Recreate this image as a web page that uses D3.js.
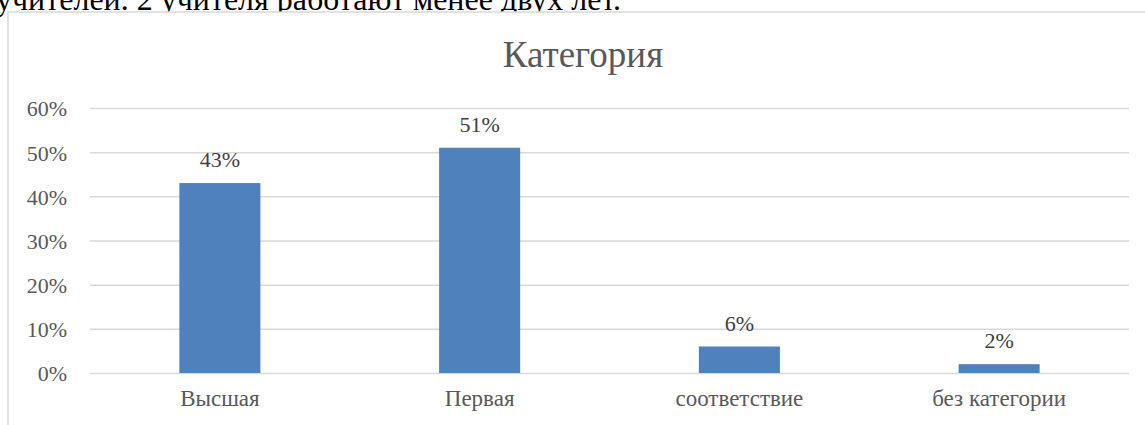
<!DOCTYPE html>
<html>
<head>
<meta charset="utf-8">
<script src="https://cdn.jsdelivr.net/npm/d3@7"></script>
<style>
  body { margin: 0; background: #fff; }
  svg { display: block; }
</style>
</head>
<body>
<svg></svg>
<script>
const categories = ['Высшая', 'Первая', 'соответствие', 'без категории'];
const values = [0.43, 0.51, 0.06, 0.02];
const tickValues = [0, 0.1, 0.2, 0.3, 0.4, 0.5, 0.6];

const data = categories.map((c, i) => ({ category: c, value: values[i] }));

const W = 1145;
const H = 425;
const plot = { left: 90, right: 1129, top: 108, bottom: 373 };
const serif = '"Liberation Serif", "Times New Roman", serif';

const svg = d3.select('svg')
    .attr('width', W)
    .attr('height', H);

// text of the document above the chart, cut by the page edge
svg.append('text')
    .attr('x', -4)
    .attr('y', 10)
    .attr('font-family', serif)
    .attr('font-size', 32)
    .attr('fill', '#000')
    .text('учителей. 2 учителя работают менее двух лет.');

// chart frame
svg.append('rect')
    .attr('x', 8)
    .attr('y', 12)
    .attr('width', W + 20)
    .attr('height', H + 20)
    .attr('fill', '#fff')
    .attr('stroke', '#d9d9d9')
    .attr('stroke-width', 1.5);

const x = d3.scaleBand()
    .domain(categories)
    .range([plot.left, plot.right])
    .paddingInner(0.688)
    .paddingOuter(0.344);

const y = d3.scaleLinear()
    .domain([0, 0.6])
    .range([plot.bottom, plot.top]);

// gridlines + y labels
const yAxis = svg.append('g')
    .attr('transform', `translate(${plot.left},0)`)
    .call(d3.axisLeft(y)
        .tickValues(tickValues)
        .tickFormat(d3.format('.0%'))
        .tickSize(-(plot.right - plot.left))
        .tickPadding(23));

yAxis.select('.domain').remove();
yAxis.selectAll('line')
    .attr('stroke', '#d9d9d9')
    .attr('stroke-width', 1.5);
yAxis.selectAll('text')
    .attr('font-family', serif)
    .attr('font-size', 22)
    .attr('fill', '#595959')
    .attr('dy', '0.36em');

// category labels
const xAxis = svg.append('g')
    .attr('transform', `translate(0,${plot.bottom})`)
    .call(d3.axisBottom(x).tickSize(0).tickPadding(0));

xAxis.select('.domain').remove();
xAxis.selectAll('text')
    .attr('font-family', serif)
    .attr('font-size', 23)
    .attr('fill', '#595959')
    .attr('dy', 33);

// bars
svg.selectAll('.bar')
    .data(data)
    .enter().append('rect')
    .attr('class', 'bar')
    .attr('x', d => x(d.category))
    .attr('y', d => y(d.value))
    .attr('width', x.bandwidth())
    .attr('height', d => y(0) - y(d.value))
    .attr('fill', '#4f81bd');

// value labels
svg.selectAll('.value-label')
    .data(data)
    .enter().append('text')
    .attr('class', 'value-label')
    .attr('x', d => x(d.category) + x.bandwidth() / 2)
    .attr('y', d => y(d.value) - 16)
    .attr('text-anchor', 'middle')
    .attr('font-family', serif)
    .attr('font-size', 22)
    .attr('fill', '#404040')
    .text(d => d3.format('.0%')(d.value));

// title
svg.append('text')
    .attr('x', 583)
    .attr('y', 67)
    .attr('text-anchor', 'middle')
    .attr('font-family', serif)
    .attr('font-size', 37)
    .attr('fill', '#595959')
    .text('Категория');
</script>
</body>
</html>
